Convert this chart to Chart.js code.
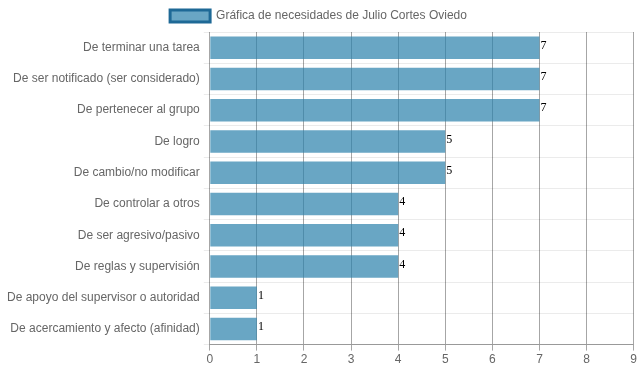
<!DOCTYPE html>
<html>
<head>
<meta charset="utf-8">
<script src="https://cdn.jsdelivr.net/npm/chart.js@4"></script>
<style>
  html, body { margin: 0; padding: 0; background: #fff; }
  #wrap { width: 639px; height: 372px; }
</style>
</head>
<body>
<div id="wrap"><canvas id="grafica" width="639" height="372"></canvas></div>
<script>
// Datos de la gráfica
const necesidades = [
    "De terminar una tarea",
    "De ser notificado (ser considerado)",
    "De pertenecer al grupo",
    "De logro",
    "De cambio/no modificar",
    "De controlar a otros",
    "De ser agresivo/pasivo",
    "De reglas y supervisión",
    "De apoyo del supervisor o autoridad",
    "De acercamiento y afecto (afinidad)"
];
const puntajes = [7, 7, 7, 5, 5, 4, 4, 4, 1, 1];
const ticksX = [0, 1, 2, 3, 4, 5, 6, 7, 8, 9];
const titulo = "Gráfica de necesidades de Julio Cortes Oviedo";

Chart.defaults.font.family = "'Liberation Sans', Arial, sans-serif";
Chart.defaults.font.size = 12;
Chart.defaults.color = "#666";

// Plugin para escribir el valor al final de cada barra
const valoresPlugin = {
    id: "valores",
    afterDatasetsDraw(chart) {
        const ctx = chart.ctx;
        ctx.save();
        ctx.font = "12px 'Liberation Serif', 'Times New Roman', serif";
        ctx.fillStyle = "#000";
        ctx.textAlign = "left";
        ctx.textBaseline = "middle";
        chart.getDatasetMeta(0).data.forEach((bar, i) => {
            ctx.fillText(puntajes[i], bar.x + 1, bar.y - 2);
        });
        ctx.restore();
    }
};

new Chart(document.getElementById("grafica"), {
    type: "bar",
    data: {
        labels: necesidades,
        datasets: [{
            label: titulo,
            data: puntajes,
            backgroundColor: "rgba(41, 128, 171, 0.7)",
            borderColor: "rgba(30, 105, 150, 1)",
            borderWidth: 0
        }]
    },
    options: {
        indexAxis: "y",
        responsive: false,
        animation: false,
        layout: { padding: { left: 3, right: 5, bottom: 3 } },
        scales: {
            x: {
                min: 0,
                max: 9,
                afterBuildTicks: scale => {
                    scale.ticks = ticksX.map(v => ({ value: v }));
                },
                grid: {
                    color: "rgba(0, 0, 0, 0.35)",
                    tickLength: 6
                },
                border: { color: "rgba(0, 0, 0, 0.35)" },
                ticks: { padding: 2 }
            },
            y: {
                grid: {
                    color: "rgba(0, 0, 0, 0.08)",
                    tickLength: 6
                },
                border: { display: false },
                ticks: { padding: 4 }
            }
        },
        plugins: {
            legend: {
                labels: {
                    boxWidth: 40,
                    boxHeight: 12,
                    generateLabels: chart => {
                        const items = Chart.defaults.plugins.legend.labels.generateLabels(chart);
                        items.forEach(it => { it.lineWidth = 3; });
                        return items;
                    }
                }
            },
            tooltip: { enabled: false }
        }
    },
    plugins: [valoresPlugin]
});
</script>
</body>
</html>
